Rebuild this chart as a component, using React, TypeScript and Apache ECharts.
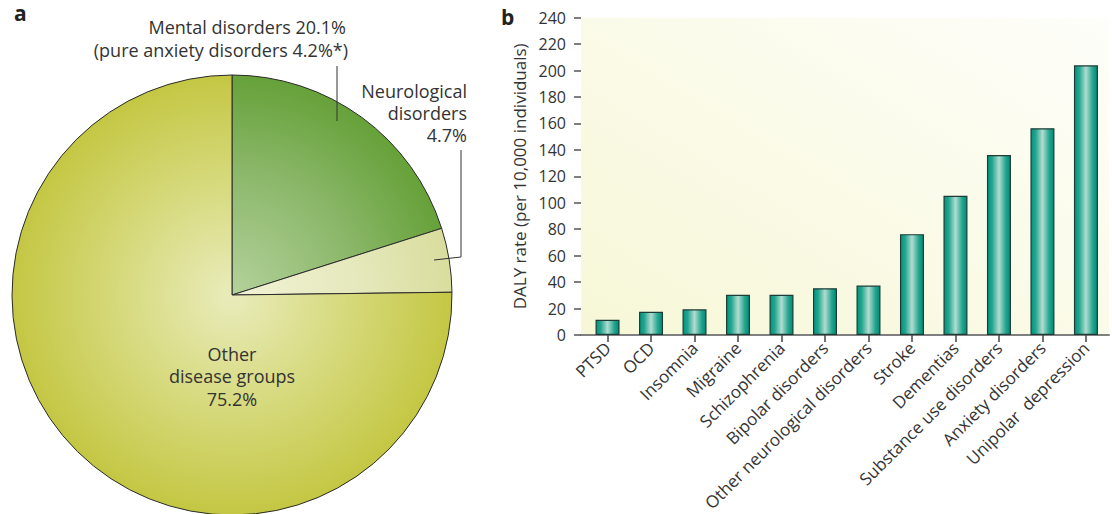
import React, { useEffect, useRef } from "react";
import * as echarts from "echarts";

const pieNames = ["Mental disorders", "Neurological disorders", "Other disease groups"];
const pieValues = [20.1, 4.7, 75.2];

const categories = [
  "PTSD",
  "OCD",
  "Insomnia",
  "Migraine",
  "Schizophrenia",
  "Bipolar disorders",
  "Other neurological disorders",
  "Stroke",
  "Dementias",
  "Substance use disorders",
  "Anxiety disorders",
  "Unipolar  depression",
];
const dalyRates = [11.5, 17.5, 19.4, 30.5, 30.5, 35.4, 37.4, 76.3, 105.3, 136.2, 156.4, 204];
const yTicks = [0, 240, 20];

const FONT = '"Open Sans", "Noto Sans", sans-serif';

export default function App() {
  const ref = useRef<HTMLDivElement>(null);
  useEffect(() => {
    const chart = echarts.init(ref.current!, null, { renderer: "svg" });
    const cx = 232,
      cy = 295,
      r = 220;
    const rg = (c0: string, c1: string, c2: string) => ({
      type: "radial",
      x: cx,
      y: cy,
      r: r,
      global: true,
      colorStops: [
        { offset: 0, color: c0 },
        { offset: 0.55, color: c1 },
        { offset: 1, color: c2 },
      ],
    });
    const pieColors = [
      rg("#b4d29c", "#8cb86b", "#66a139"),
      rg("#f1f3d6", "#e6e9bd", "#d9dd9d"),
      rg("#e9ecbb", "#d5d878", "#c4c743"),
    ];
    const indices = categories.map((_, i) => i);
    const txt = (text: string, x: number, y: number, align: string, size = 18) => ({
      type: "text",
      style: {
        text,
        x,
        y,
        textAlign: align,
        textVerticalAlign: "middle",
        fill: "#333",
        font: `${size}px ${FONT}`,
      },
      z: 100,
    });
    chart.setOption({
      animation: false,
      backgroundColor: "#fff",
      grid: {
        left: 581,
        top: 17.7,
        width: 528,
        height: 320,
        show: true,
        borderWidth: 0,
        backgroundColor: {
          type: "linear",
          x: 0,
          y: 1,
          x2: 1,
          y2: 0,
          colorStops: [
            { offset: 0, color: "#f7f7d7" },
            { offset: 1, color: "#fefefa" },
          ],
        },
      },
      xAxis: {
        type: "value",
        min: -0.61,
        max: 11.53,
        splitLine: { show: false },
        axisLine: { show: true, onZero: false, lineStyle: { color: "#808080", width: 2 } },
        axisTick: {
          show: true,
          customValues: indices,
          length: 7,
          lineStyle: { color: "#444", width: 1.5 },
        },
        axisLabel: {
          customValues: indices,
          formatter: (v: number) => categories[Math.round(v)],
          rotate: 45,
          margin: 10,
          color: "#333",
          fontSize: 17,
          fontFamily: FONT,
        },
      },
      yAxis: {
        type: "value",
        min: yTicks[0],
        max: yTicks[1],
        interval: yTicks[2],
        name: "DALY rate (per 10,000 individuals)",
        nameLocation: "middle",
        nameGap: 53,
        nameTextStyle: { color: "#333", fontSize: 17, fontFamily: FONT },
        splitLine: { show: false },
        axisLine: { show: false, onZero: false },
        axisTick: { show: true, length: 7, lineStyle: { color: "#555", width: 1.5 } },
        axisLabel: { color: "#333", fontSize: 16, fontFamily: FONT, margin: 15 },
      },
      series: [
        {
          type: "pie",
          center: [cx, cy],
          radius: r,
          startAngle: 90,
          clockwise: true,
          label: { show: false },
          labelLine: { show: false },
          emphasis: { disabled: true },
          itemStyle: { borderColor: "#2b2b2b", borderWidth: 1 },
          data: pieNames.map((n, i) => ({
            name: n,
            value: pieValues[i],
            itemStyle: { color: pieColors[i] },
          })),
        },
        {
          type: "bar",
          barWidth: 24,
          data: dalyRates.map((v, i) => [i, v]),
          itemStyle: {
            borderColor: "#1d3c37",
            borderWidth: 1.2,
            color: {
              type: "linear",
              x: 0,
              y: 0,
              x2: 1,
              y2: 0,
              colorStops: [
                { offset: 0, color: "#009580" },
                { offset: 0.2, color: "#22a58e" },
                { offset: 0.5, color: "#b2dcd1" },
                { offset: 0.8, color: "#22a58e" },
                { offset: 1, color: "#008a76" },
              ],
            },
          },
        },
      ],
      graphic: [
        {
          type: "text",
          style: { text: "a", x: 14, y: 13, textVerticalAlign: "middle", fill: "#222", font: `bold 21px ${FONT}` },
        },
        {
          type: "text",
          style: { text: "b", x: 501, y: 17, textVerticalAlign: "middle", fill: "#222", font: `bold 21px ${FONT}` },
        },
        txt("Mental disorders 20.1%", 346, 27, "right"),
        txt("(pure anxiety disorders 4.2%*)", 348, 50, "right"),
        txt("Neurological", 467, 91, "right"),
        txt("disorders", 467, 113, "right"),
        txt("4.7%", 467, 135, "right"),
        txt("Other", 232, 354, "center"),
        txt("disease groups", 232, 376, "center"),
        txt("75.2%", 232, 399, "center"),
        {
          type: "line",
          shape: { x1: 337, y1: 66, x2: 337, y2: 121 },
          style: { stroke: "#333", lineWidth: 1 },
          z: 100,
        },
        {
          type: "polyline",
          shape: { points: [[461, 150], [461, 257], [434, 260]] },
          style: { stroke: "#333", lineWidth: 1, fill: null },
          z: 100,
        },
      ],
    });
    return () => chart.dispose();
  }, []);
  return (
    <div
      ref={ref}
      style={{ position: "fixed", left: 0, top: 0, width: 1112, height: 514 }}
    />
  );
}
